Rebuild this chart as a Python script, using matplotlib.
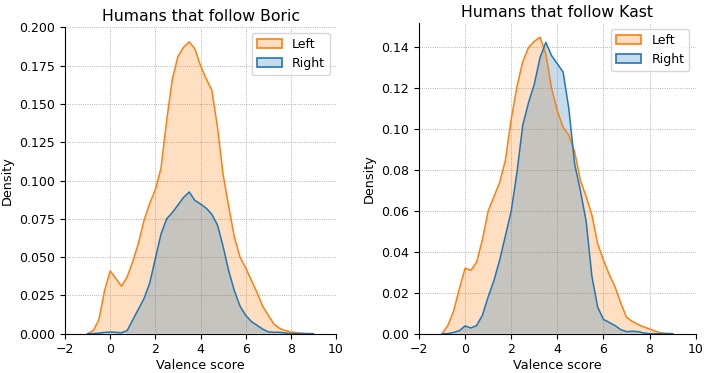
import matplotlib
matplotlib.use("Agg")
import matplotlib.pyplot as plt
from matplotlib.patches import Patch
from matplotlib.colors import to_rgba

x_grid = [-1.0, -0.75, -0.5, -0.25, 0.0, 0.25, 0.5, 0.75, 1.0, 1.25, 1.5, 1.75,
          2.0, 2.25, 2.5, 2.75, 3.0, 3.25, 3.5, 3.75, 4.0, 4.25, 4.5, 4.75,
          5.0, 5.25, 5.5, 5.75, 6.0, 6.25, 6.5, 6.75, 7.0, 7.25, 7.5, 7.75,
          8.0, 8.25, 8.5, 8.75, 9.0]

boric_left = [0.0, 0.002, 0.009, 0.028, 0.041, 0.036, 0.031, 0.037, 0.047, 0.059, 0.074, 0.085,
              0.094, 0.108, 0.139, 0.166, 0.181, 0.187, 0.1905, 0.186, 0.175, 0.1665, 0.159, 0.135,
              0.104, 0.083, 0.063, 0.050, 0.043, 0.035, 0.027, 0.018, 0.012, 0.0063, 0.0035, 0.002,
              0.0011, 0.0007, 0.0003, 0.0001, 0.0]
boric_right = [0.0, 0.0, 0.0004, 0.0008, 0.0011, 0.0009, 0.0006, 0.002, 0.009, 0.016, 0.023, 0.033,
               0.049, 0.065, 0.075, 0.079, 0.084, 0.089, 0.0925, 0.087, 0.0847, 0.082, 0.078, 0.071,
               0.057, 0.041, 0.028, 0.018, 0.012, 0.008, 0.0055, 0.003, 0.0012, 0.0009, 0.0009, 0.0005,
               0.0, 0.0, 0.0, 0.0, 0.0]

kast_left = [0.0, 0.004, 0.011, 0.022, 0.032, 0.031, 0.035, 0.046, 0.060, 0.067, 0.074, 0.085,
             0.105, 0.121, 0.133, 0.140, 0.143, 0.145, 0.137, 0.120, 0.109, 0.101, 0.097, 0.089,
             0.075, 0.067, 0.058, 0.044, 0.036, 0.029, 0.023, 0.015, 0.008, 0.006, 0.0045, 0.0033,
             0.0023, 0.0012, 0.0004, 0.0001, 0.0]
kast_right = [0.0, 0.0, 0.0006, 0.0015, 0.0038, 0.0028, 0.004, 0.009, 0.018, 0.026, 0.036, 0.048,
              0.060, 0.079, 0.102, 0.113, 0.122, 0.135, 0.1425, 0.136, 0.132, 0.128, 0.110, 0.083,
              0.070, 0.055, 0.028, 0.013, 0.007, 0.0055, 0.004, 0.002, 0.001, 0.0012, 0.001, 0.0003,
              0.0, 0.0, 0.0, 0.0, 0.0]

titles = ["Humans that follow Boric", "Humans that follow Kast"]
series_labels = ["Left", "Right"]
boric_yticks = [0.0, 0.025, 0.05, 0.075, 0.1, 0.125, 0.15, 0.175, 0.2]
kast_yticks = [0.0, 0.02, 0.04, 0.06, 0.08, 0.10, 0.12, 0.14]
xticks = [-2, 0, 2, 4, 6, 8, 10]

c_left = "#ff7f0e"
c_right = "#1f77b4"

fig = plt.figure(figsize=(7.08, 3.73), dpi=100)
ax1 = fig.add_axes([0.0918, 0.1054, 0.3828, 0.8230])
ax2 = fig.add_axes([0.5918, 0.1054, 0.3908, 0.8337])

panels = [
    (ax1, boric_left, boric_right, boric_yticks, "{:.3f}", 0.2004, titles[0]),
    (ax2, kast_left, kast_right, kast_yticks, "{:.2f}", 0.1521, titles[1]),
]

for ax, yl, yr, yt, fmt, ytop, title in panels:
    for ys, c in ((yl, c_left), (yr, c_right)):
        ax.fill_between(x_grid, ys, 0, facecolor=to_rgba(c, 0.25), edgecolor="none")
        ax.plot(x_grid, ys, color=c, lw=1.1)
    ax.set_xlim(-2, 10)
    ax.set_ylim(0, ytop)
    ax.set_xticks(xticks)
    ax.set_yticks(yt)
    ax.set_yticklabels([fmt.format(v) for v in yt])
    ax.tick_params(labelsize=9, length=3.5, width=0.8)
    ax.set_xlabel("Valence score", fontsize=9.2, labelpad=2)
    ax.set_ylabel("Density", fontsize=9.2)
    ax.set_title(title, fontsize=11.3, pad=4)
    ax.grid(True, linestyle=":", color="#9a9a9a", linewidth=0.6)
    ax.set_axisbelow(True)
    for s in ("top", "right"):
        ax.spines[s].set_visible(False)
    handles = [Patch(facecolor=to_rgba(c_left, 0.25), edgecolor=c_left, lw=1.2),
               Patch(facecolor=to_rgba(c_right, 0.25), edgecolor=c_right, lw=1.2)]
    ax.legend(handles, series_labels, loc="upper right", fontsize=9)

fig.savefig("out.png", dpi=100)
